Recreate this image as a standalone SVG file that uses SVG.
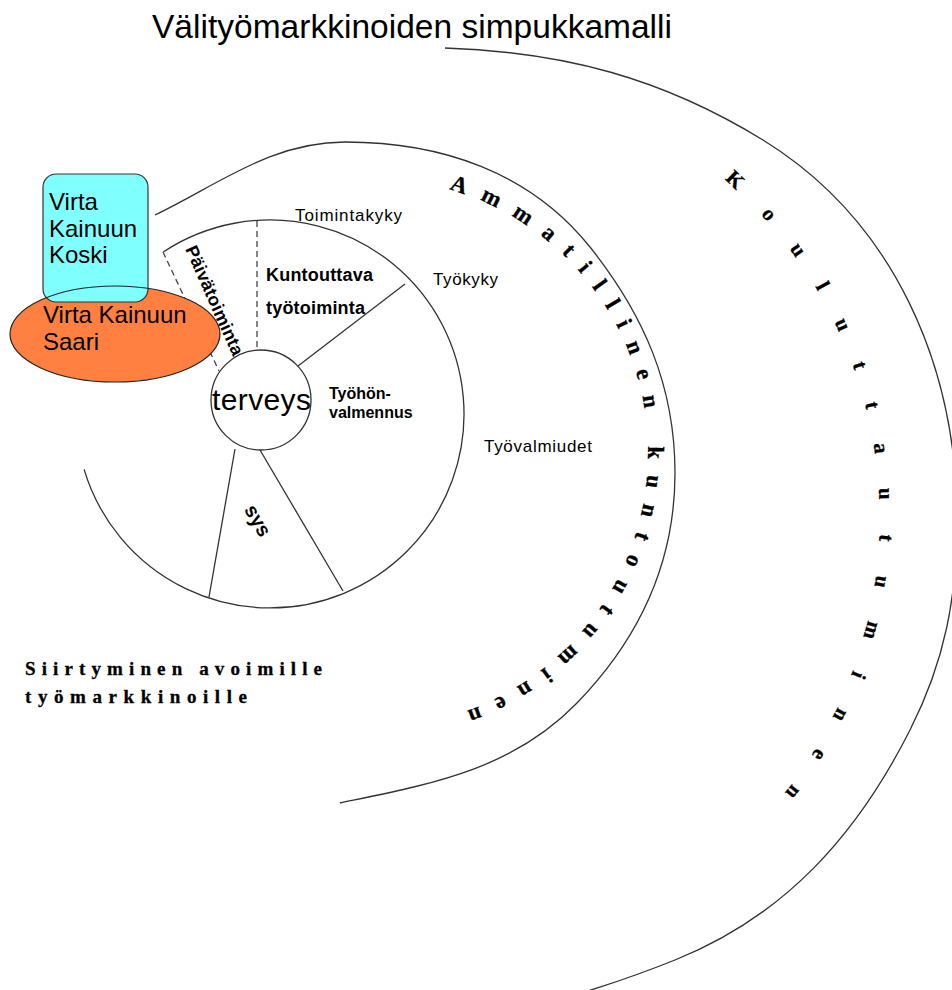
<svg xmlns="http://www.w3.org/2000/svg" width="952" height="990" viewBox="0 0 952 990">
  <defs>
    <style>
      .ln { fill: none; stroke: #333; stroke-width: 1.3; }
      .dash { fill: none; stroke: #444; stroke-width: 1.3; stroke-dasharray: 6 4; }
      .sans { font-family: "Liberation Sans", Arial, sans-serif; fill: #000; }
      .b { font-weight: bold; }
      .curv { font-family: "Liberation Serif", "Times New Roman", serif; font-weight: bold; fill: #000; stroke: #000; stroke-width: 0.3; }
    </style>
    <path id="pathAmm" d="M448.9,189.4 A274,274 0 0 1 421.6,722.8"/>
    <path id="pathKoul" d="M724.0,179.6 A446,446 0 0 1 720.2,859.6"/>
  </defs>
  <rect x="0" y="0" width="952" height="990" fill="#fff"/>

  <g id="title">
    <text class="sans" x="152" y="38" font-size="33.5" textLength="520">Välityömarkkinoiden simpukkamalli</text>
  </g>

  <g id="connectors">
    <path id="arc-koulutus" class="ln" d="M445,48 C564,52 662,78 763,140 C894,221 957,366 957,520 C957,597 945,661 910,730 C857,835 785,916 675,960 C620,982 577,995 520,1010"/>
    <path id="arc-ammatillinen" class="ln" d="M155,215 C221,183 272,142 345,142 C441,142 530,172 590,247 C644,315 675,386 675,473 C675,563 640,638 577,703 C512,770 431,784 340,803"/>
    <path id="arc-wheel" class="ln" d="M163.2,252 A194,194 0 1 1 84.1,469.4"/>
    <path class="dash" d="M163,252 L219,371"/>
    <path class="dash" d="M257,221 L257,350"/>
    <path class="ln" d="M405,284 L298,366"/>
    <path class="ln" d="M235,449 L209,597"/>
    <path class="ln" d="M260,450 L343,591"/>
  </g>

  <g id="terveys">
    <circle cx="261" cy="400" r="50" fill="#fff" stroke="#333" stroke-width="1.3"/>
    <text class="sans" x="212" y="410" font-size="30" textLength="99">terveys</text>
  </g>

  <g id="virta-saari">
    <ellipse cx="115" cy="334" rx="105" ry="48" fill="#FF8040"/>
  </g>
  <g id="virta-koski">
    <rect x="43" y="174" width="105" height="128" rx="13" ry="13" fill="#80FFFF" stroke="#333" stroke-width="1.2"/>
    <text class="sans" font-size="24" x="49" y="210">Virta</text>
    <text class="sans" font-size="24" x="49" y="237">Kainuun</text>
    <text class="sans" font-size="24" x="49" y="263">Koski</text>
  </g>
  <g id="virta-saari-label">
    <ellipse cx="115" cy="334" rx="105" ry="48" fill="none" stroke="#222" stroke-width="1.2"/>
    <text class="sans" font-size="24" x="43" y="323">Virta Kainuun</text>
    <text class="sans" font-size="24" x="43" y="350">Saari</text>
  </g>

  <g id="labels">
    <text class="sans" x="295" y="221" font-size="17" textLength="107">Toimintakyky</text>
    <text class="sans" x="433" y="285" font-size="17" textLength="65">Työkyky</text>
    <text class="sans" x="484" y="452" font-size="17" textLength="108">Työvalmiudet</text>
    <text class="sans b" x="266" y="281" font-size="18" textLength="107">Kuntouttava</text>
    <text class="sans b" x="266" y="314" font-size="18" textLength="99">työtoiminta</text>
    <text class="sans b" x="329" y="399" font-size="16">Työhön-</text>
    <text class="sans b" x="329" y="418" font-size="16">valmennus</text>
    <text class="sans b" font-size="18" transform="translate(185,249) rotate(66)" textLength="118">Päivätoiminta</text>
    <text class="sans b" font-size="20" text-anchor="middle" transform="translate(252,524) rotate(60)">sys</text>
  </g>

  <g id="ammatillinen">
    <text class="curv" font-size="23" letter-spacing="15.85"><textPath href="#pathAmm">Ammatillinen kuntoutuminen</textPath></text>
  </g>
  <g id="kouluttautuminen">
    <text class="curv" font-size="21" letter-spacing="34.2"><textPath href="#pathKoul">Kouluttautuminen</textPath></text>
  </g>

  <g id="siirtyminen">
    <text class="curv" font-size="19" x="25" y="675" textLength="297">Siirtyminen avoimille</text>
    <text class="curv" font-size="19" x="25" y="703" textLength="222">työmarkkinoille</text>
  </g>
</svg>
